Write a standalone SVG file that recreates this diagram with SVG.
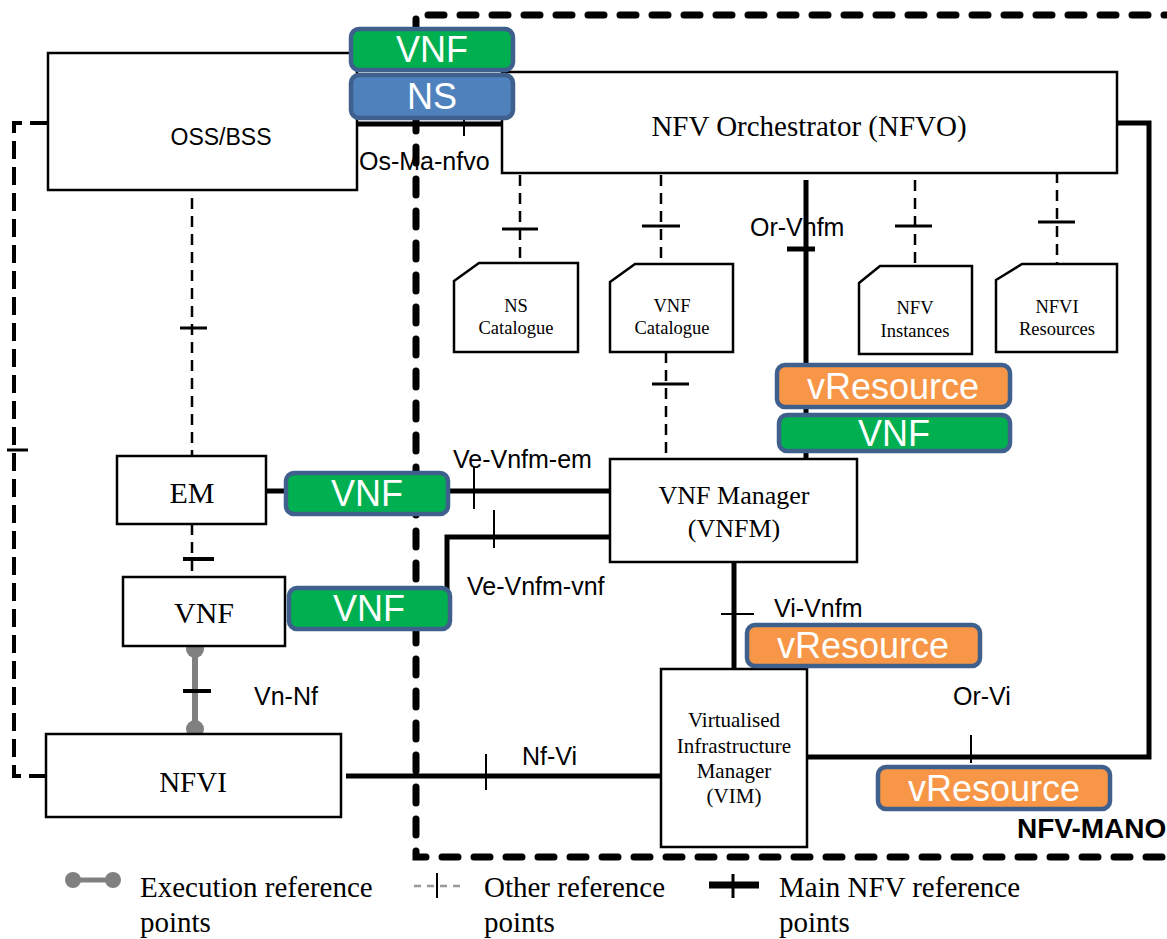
<svg xmlns="http://www.w3.org/2000/svg" width="1167" height="939" viewBox="0 0 1167 939">
<style>
.box{fill:#fff;stroke:#000;stroke-width:2.5}
.serif{font-family:"Liberation Serif","Times New Roman",serif;fill:#000;text-anchor:middle}
.leg{font-family:"Liberation Serif","Times New Roman",serif;fill:#000;font-size:29px}
.sans{font-family:"Liberation Sans",Arial,sans-serif;fill:#000}
.lbl{font-family:"Liberation Sans",Arial,sans-serif;font-size:25px;fill:#000}
.main{fill:none;stroke:#000;stroke-width:5}
.thin{fill:none;stroke:#000;stroke-width:2}
.other{fill:none;stroke:#000;stroke-width:2.5;stroke-dasharray:11 7}
.tick{fill:none;stroke:#000;stroke-width:3}
.mano{fill:none;stroke:#000;stroke-width:7;stroke-dasharray:16 16;stroke-linecap:round}
.tag{stroke:#3F5F8C;stroke-width:4.5}
.tagt{font-family:"Liberation Sans",Arial,sans-serif;font-size:36px;fill:#fff;text-anchor:middle}
.g{fill:#00B050}.b{fill:#4F81BD}.o{fill:#F79646}
</style>

<!-- MANO boundary -->
<path class="mano" d="M1180 15 H416 V857 H1180"/>

<g id="connectors">
  <!-- OSS left dashed loop to NFVI -->
  <path fill="none" stroke="#000" stroke-width="4" stroke-dasharray="18 8" d="M48 123 H14 V776 H46"/>
  <line class="tick" x1="7" y1="450" x2="28" y2="450"/>
  <!-- OSS to EM -->
  <line class="other" x1="192" y1="198" x2="192" y2="456"/>
  <line class="tick" x1="180" y1="328" x2="207" y2="328"/>
  <!-- EM to VNF -->
  <line class="other" x1="192" y1="524" x2="192" y2="577"/>
  <line fill="none" stroke="#000" stroke-width="4" x1="183" y1="559" x2="214" y2="559"/>
  <!-- Vn-Nf execution -->
  <line stroke="#808080" stroke-width="6" x1="195" y1="647" x2="195" y2="730"/>
  <circle cx="195" cy="649" r="9" fill="#808080"/>
  <circle cx="195" cy="729" r="9" fill="#808080"/>
  <line fill="none" stroke="#000" stroke-width="4" x1="183" y1="691" x2="211" y2="691"/>
  <!-- Nf-Vi -->
  <line class="main" x1="346" y1="776" x2="661" y2="776"/>
  <line class="thin" x1="486" y1="754" x2="486" y2="790"/>
  <!-- EM to VNFM -->
  <line class="main" x1="266" y1="491" x2="610" y2="491"/>
  <line class="thin" x1="474" y1="467" x2="474" y2="509"/>
  <!-- Ve-Vnfm-vnf -->
  <path class="main" d="M610 537 H447 V590"/>
  <line class="thin" x1="494" y1="510" x2="494" y2="548"/>
  <!-- Os-Ma-nfvo -->
  <line class="main" x1="350" y1="124" x2="502" y2="124"/>
  <line class="thin" x1="464" y1="120" x2="464" y2="136"/>
  <!-- Or-Vnfm -->
  <line class="main" x1="806" y1="180" x2="806" y2="459"/>
  <line class="main" x1="787" y1="249" x2="815" y2="249"/>
  <!-- Catalogue links -->
  <line class="other" x1="520" y1="175" x2="520" y2="263"/>
  <line class="tick" x1="502" y1="229" x2="538" y2="229"/>
  <line class="other" x1="661" y1="175" x2="661" y2="264"/>
  <line class="tick" x1="642" y1="226" x2="680" y2="226"/>
  <line class="other" x1="915" y1="180" x2="915" y2="266"/>
  <line class="tick" x1="895" y1="226" x2="932" y2="226"/>
  <line class="other" x1="1057" y1="172" x2="1057" y2="264"/>
  <line class="tick" x1="1038" y1="222" x2="1075" y2="222"/>
  <line class="other" x1="666" y1="352" x2="666" y2="459"/>
  <line class="tick" x1="652" y1="384" x2="689" y2="384"/>
  <!-- Vi-Vnfm -->
  <line class="main" x1="734" y1="562" x2="734" y2="669"/>
  <line class="thin" x1="721" y1="614" x2="754" y2="614"/>
  <!-- Or-Vi -->
  <path class="main" d="M1117 123 H1149 V757 H807"/>
  <line class="thin" x1="971" y1="735" x2="971" y2="763"/>
  <!-- labels -->
  <text class="lbl" x="359" y="170">Os-Ma-nfvo</text>
  <text class="lbl" x="750" y="236">Or-Vnfm</text>
  <text class="lbl" x="453" y="468">Ve-Vnfm-em</text>
  <text class="lbl" x="467" y="595">Ve-Vnfm-vnf</text>
  <text class="lbl" x="774" y="617">Vi-Vnfm</text>
  <text class="lbl" x="953" y="705">Or-Vi</text>
  <text class="lbl" x="254" y="705">Vn-Nf</text>
  <text class="lbl" x="522" y="765">Nf-Vi</text>
</g>

<g id="oss">
  <rect class="box" x="48" y="53" width="309" height="137"/>
  <text class="sans" x="221" y="145" font-size="23" text-anchor="middle">OSS/BSS</text>
</g>
<g id="nfvo">
  <rect class="box" x="502" y="72" width="615" height="101"/>
  <text class="serif" x="809" y="136" font-size="29">NFV Orchestrator (NFVO)</text>
</g>
<g id="em">
  <rect class="box" x="117" y="456" width="149" height="68"/>
  <text class="serif" x="192" y="503" font-size="30">EM</text>
</g>
<g id="vnf">
  <rect class="box" x="123" y="577" width="162" height="69"/>
  <text class="serif" x="204" y="623" font-size="30">VNF</text>
</g>
<g id="nfvi">
  <rect class="box" x="46" y="734" width="295" height="83"/>
  <text class="serif" x="193" y="792" font-size="29">NFVI</text>
</g>
<g id="vnfm">
  <rect class="box" x="610" y="459" width="247" height="103"/>
  <text class="serif" x="734" y="504" font-size="26">VNF Manager</text>
  <text class="serif" x="734" y="537" font-size="26">(VNFM)</text>
</g>
<g id="vim">
  <rect class="box" x="661" y="669" width="146" height="178"/>
  <text class="serif" x="734" y="727" font-size="21">Virtualised</text>
  <text class="serif" x="734" y="753" font-size="21">Infrastructure</text>
  <text class="serif" x="734" y="778" font-size="21">Manager</text>
  <text class="serif" x="734" y="803" font-size="21">(VIM)</text>
</g>
<g id="ns-catalogue">
  <path class="box" d="M454 281 L479 263 H578 V352 H454 Z"/>
  <text class="serif" x="516" y="312" font-size="18.5">NS</text>
  <text class="serif" x="516" y="334" font-size="18.5">Catalogue</text>
</g>
<g id="vnf-catalogue">
  <path class="box" d="M610 282 L635 264 H733 V352 H610 Z"/>
  <text class="serif" x="672" y="312" font-size="18.5">VNF</text>
  <text class="serif" x="672" y="334" font-size="18.5">Catalogue</text>
</g>
<g id="nfv-instances">
  <path class="box" d="M859 283 L880 266 H972 V354 H859 Z"/>
  <text class="serif" x="915" y="314" font-size="18.5">NFV</text>
  <text class="serif" x="915" y="337" font-size="18.5">Instances</text>
</g>
<g id="nfvi-resources">
  <path class="box" d="M996 280 L1022 264 H1117 V352 H996 Z"/>
  <text class="serif" x="1057" y="313" font-size="18.5">NFVI</text>
  <text class="serif" x="1057" y="335" font-size="18.5">Resources</text>
</g>

<g id="tags">
  <rect class="tag g" x="351" y="29" width="162" height="41" rx="8"/>
  <text class="tagt" x="432" y="62">VNF</text>
  <rect class="tag b" x="351" y="75" width="162" height="43" rx="8"/>
  <text class="tagt" x="432" y="109">NS</text>
  <rect class="tag g" x="286" y="473" width="162" height="41" rx="8"/>
  <text class="tagt" x="367" y="506">VNF</text>
  <rect class="tag g" x="289" y="588" width="161" height="41" rx="8"/>
  <text class="tagt" x="369" y="621">VNF</text>
  <rect class="tag o" x="777" y="365" width="233" height="42" rx="8"/>
  <text class="tagt" x="893" y="399">vResource</text>
  <rect class="tag g" x="779" y="415" width="231" height="36" rx="8"/>
  <text class="tagt" x="894" y="446">VNF</text>
  <rect class="tag o" x="747" y="625" width="233" height="41" rx="8"/>
  <text class="tagt" x="863" y="658">vResource</text>
  <rect class="tag o" x="878" y="767" width="232" height="42" rx="8"/>
  <text class="tagt" x="994" y="801">vResource</text>
</g>

<text class="sans" x="1017" y="838" font-size="28" font-weight="bold">NFV-MANO</text>

<g id="legend">
  <line stroke="#808080" stroke-width="5" x1="73" y1="880" x2="113" y2="880"/>
  <circle cx="73" cy="880" r="8" fill="#808080"/>
  <circle cx="113" cy="880" r="8" fill="#808080"/>
  <text class="leg" x="140" y="897">Execution reference</text>
  <text class="leg" x="140" y="932">points</text>
  <line stroke="#999" stroke-width="2.5" stroke-dasharray="7 6" x1="414" y1="886" x2="462" y2="886"/>
  <line class="thin" x1="437" y1="873" x2="437" y2="898"/>
  <text class="leg" x="484" y="897">Other reference</text>
  <text class="leg" x="484" y="932">points</text>
  <line stroke="#000" stroke-width="7" x1="709" y1="885" x2="759" y2="885"/>
  <line stroke="#000" stroke-width="3" x1="733" y1="874" x2="733" y2="898"/>
  <text class="leg" x="779" y="897">Main NFV reference</text>
  <text class="leg" x="779" y="932">points</text>
</g>
</svg>
